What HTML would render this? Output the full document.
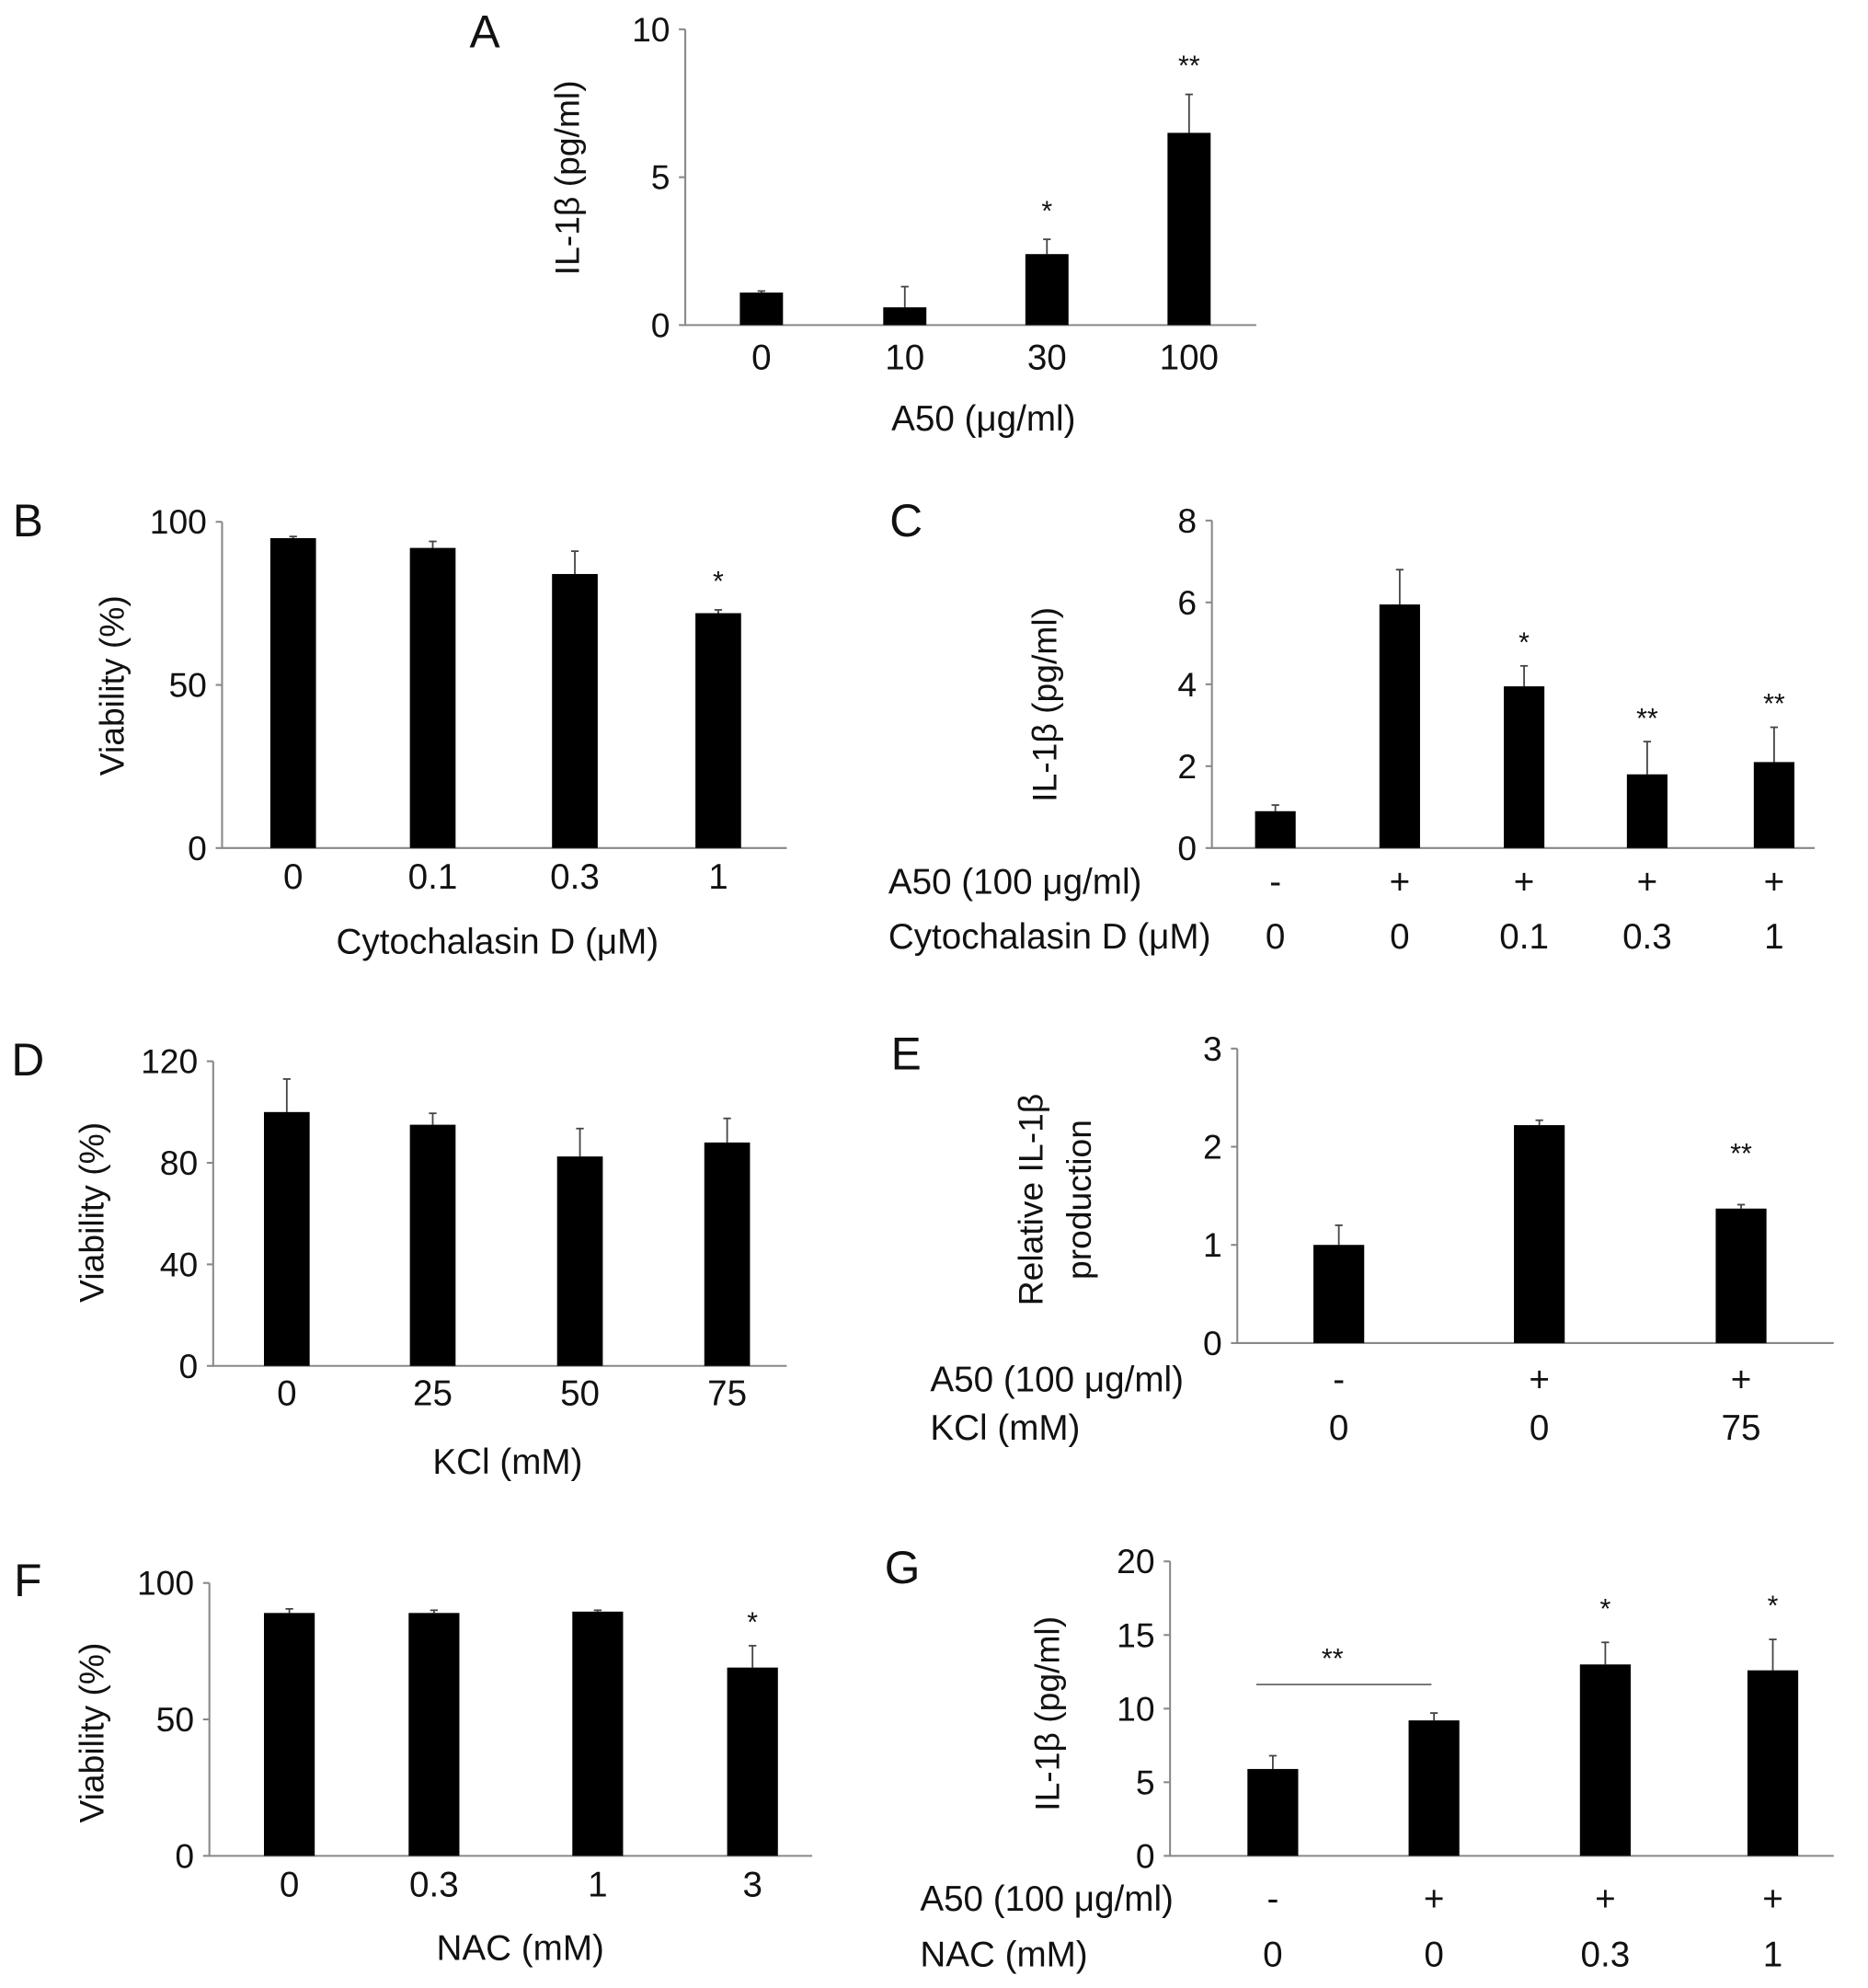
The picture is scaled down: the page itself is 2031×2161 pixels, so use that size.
<!DOCTYPE html>
<html><head><meta charset="utf-8"><style>
html,body{margin:0;padding:0;background:#fff}
svg{display:block}
text{font-family:"Liberation Sans Narrow","Liberation Sans",sans-serif;fill:#111}
</style></head><body>
<svg id="fig" width="2031" height="2161" viewBox="0 0 1472 1566" xmlns="http://www.w3.org/2000/svg"></svg>
<script>
// Panel data
const aCats=["0","10","30","100"], aVals=[1.1,0.6,2.4,6.5], aErr=[1.15,1.3,2.9,7.8], aSig=["","","*","**"], aTicks=[0,5,10];
const bCats=["0","0.1","0.3","1"], bVals=[95,92,84,72], bErr=[95.5,94,91,73], bSig=["","","","*"], bTicks=[0,50,100];
const cRow1=["-","+","+","+","+"], cRow2=["0","0","0.1","0.3","1"], cVals=[0.9,5.95,3.95,1.8,2.1], cErr=[1.05,6.8,4.45,2.6,2.95], cSig=["","","*","**","**"], cTicks=[0,2,4,6,8];
const dCats=["0","25","50","75"], dVals=[100,95,82.5,88], dErr=[113,99.5,93.5,97.5], dSig=["","","",""], dTicks=[0,40,80,120];
const eRow1=["-","+","+"], eRow2=["0","0","75"], eVals=[1.0,2.22,1.37], eErr=[1.2,2.27,1.41], eSig=["","","**"], eTicks=[0,1,2,3];
const fCats=["0","0.3","1","3"], fVals=[89,89,89.5,69], fErr=[90.5,90,90,77], fSig=["","","","*"], fTicks=[0,50,100];
const gRow1=["-","+","+","+"], gRow2=["0","0","0.3","1"], gVals=[5.9,9.2,13.0,12.6], gErr=[6.8,9.7,14.5,14.7], gSig=["","","*","*"], gTicks=[0,5,10,15,20];

const svg=document.getElementById('fig');
const NS="http://www.w3.org/2000/svg";
function el(tag,attrs,parent){const e=document.createElementNS(NS,tag);for(const k in attrs)e.setAttribute(k,attrs[k]);(parent||svg).appendChild(e);return e;}
function txt(x,y,s,size,anchor,parent,rot){const t=el('text',{x:x,y:y,'font-size':size,'text-anchor':anchor||'middle','dominant-baseline':'central'},parent);if(rot)t.setAttribute('transform','rotate(-90 '+x+' '+y+')');t.textContent=s;return t;}

function panel(p){
  const g=el('g',{});
  
  
  const ymax=p.ticks[p.ticks.length-1];
  const Y=v=>p.y0-(v/ymax)*(p.y0-p.yTop);
  const ax=el('path',{d:`M${p.ax} ${p.yTop}V${p.y0}H${p.axEnd}`,stroke:'#888',fill:'none','stroke-width':1.5},g);
  
  
  p.ticks.forEach(t=>{
    el('line',{x1:p.ax-5,x2:p.ax,y1:Y(t),y2:Y(t),stroke:'#888','stroke-width':1.5},g);
    const tl=txt(p.ax-12,Y(t),String(t),27,'end',g);
    
    
  });
  p.vals.forEach((v,i)=>{
    const cx=p.xs[i];
    el('line',{x1:cx,x2:cx,y1:Y(p.err[i]),y2:Y(v),stroke:'#444','stroke-width':1.3},g);
    el('line',{x1:cx-3,x2:cx+3,y1:Y(p.err[i]),y2:Y(p.err[i]),stroke:'#444','stroke-width':1.3},g);
    const r=el('rect',{x:cx-p.bw/2,y:Y(v),width:p.bw,height:p.y0-Y(v),fill:'#000'},g);
    
    
    if(p.sig[i]){const s=txt(cx,Y(p.err[i])-p.sigOff,p.sig[i],22,'middle',g);
      
      }
  });
  if(p.cats){p.cats.forEach((c,i)=>{const t=txt(p.xs[i],p.catY,c,28,'middle',g);
    
    });
    const xt=txt(p.xtX,p.xtY,p.xTitle,28,'middle',g);
    
    }
  if(p.rows){p.rows.forEach((r,ri)=>{
    const lt=txt(p.rowX,p.rowY[ri],r.label,28,'start',g);
    
    
    r.vals.forEach((c,i)=>{const t=txt(p.xs[i],p.rowY[ri],c,28,'middle',g);
      
      });
  });}
  p.yTitle.forEach((s,k)=>{const t=el('text',{x:p.ytX+k*38,y:p.ytY,'font-size':27,'text-anchor':'middle','dominant-baseline':'central','font-family':'Liberation Sans,sans-serif',transform:`rotate(-90 ${p.ytX+k*38} ${p.ytY})`},g);t.textContent=s;
    
    });
  const L=txt(p.lx,p.ly,p.id,36,'middle',g);
  
  
  return {g,Y};
}

panel({id:'A',ax:540,axEnd:990,yTop:23,y0:256,ticks:aTicks,vals:aVals,err:aErr,sig:aSig,xs:[600,713,825,937],bw:34,sigOff:22,
  cats:aCats,catY:282,xTitle:'A50 (μg/ml)',xtX:775,xtY:330,yTitle:['IL-1β (pg/ml)'],ytX:447,ytY:140,lx:382,ly:25});
panel({id:'B',ax:175,axEnd:620,yTop:411,y0:668,ticks:bTicks,vals:bVals,err:bErr,sig:bSig,xs:[231,341,453,566],bw:36,sigOff:22,
  cats:bCats,catY:691,xTitle:'Cytochalasin D (μM)',xtX:392,xtY:742,yTitle:['Viability (%)'],ytX:88,ytY:540,lx:22,ly:410});
panel({id:'C',ax:955,axEnd:1430,yTop:410,y0:668,ticks:cTicks,vals:cVals,err:cErr,sig:cSig,xs:[1005,1103,1201,1298,1398],bw:32,sigOff:18,
  rows:[{label:'A50 (100 μg/ml)',vals:cRow1},{label:'Cytochalasin D (μM)',vals:cRow2}],rowX:700,rowY:[695,738],
  yTitle:['IL-1β (pg/ml)'],ytX:823,ytY:555,lx:714,ly:410});
panel({id:'D',ax:168,axEnd:620,yTop:836,y0:1076,ticks:dTicks,vals:dVals,err:dErr,sig:dSig,xs:[226,341,457,573],bw:36,sigOff:20,
  cats:dCats,catY:1098,xTitle:'KCl (mM)',xtX:400,xtY:1152,yTitle:['Viability (%)'],ytX:72,ytY:955,lx:22,ly:835});
panel({id:'E',ax:975,axEnd:1445,yTop:826,y0:1058,ticks:eTicks,vals:eVals,err:eErr,sig:eSig,xs:[1055,1213,1372],bw:40,sigOff:40,
  rows:[{label:'A50 (100 μg/ml)',vals:eRow1},{label:'KCl (mM)',vals:eRow2}],rowX:733,rowY:[1087,1125],
  yTitle:['Relative IL-1β','production'],ytX:812,ytY:945,lx:714,ly:830});
panel({id:'F',ax:165,axEnd:640,yTop:1247,y0:1462,ticks:fTicks,vals:fVals,err:fErr,sig:fSig,xs:[228,342,471,593],bw:40,sigOff:18,
  cats:fCats,catY:1485,xTitle:'NAC (mM)',xtX:410,xtY:1535,yTitle:['Viability (%)'],ytX:72,ytY:1365,lx:22,ly:1245});
const G=panel({id:'G',ax:922,axEnd:1445,yTop:1230,y0:1462,ticks:gTicks,vals:gVals,err:gErr,sig:gSig,xs:[1003,1130,1265,1397],bw:40,sigOff:26,
  rows:[{label:'A50 (100 μg/ml)',vals:gRow1},{label:'NAC (mM)',vals:gRow2}],rowX:725,rowY:[1496,1540],
  yTitle:['IL-1β (pg/ml)'],ytX:825,ytY:1350,lx:711,ly:1235});
const sl=el('line',{x1:990,x2:1128,y1:1327,y2:1327,stroke:'#666','stroke-width':1.3},G.g);


const ss=txt(1050,1307,'**',22,'middle',G.g);


</script>
</body></html>
